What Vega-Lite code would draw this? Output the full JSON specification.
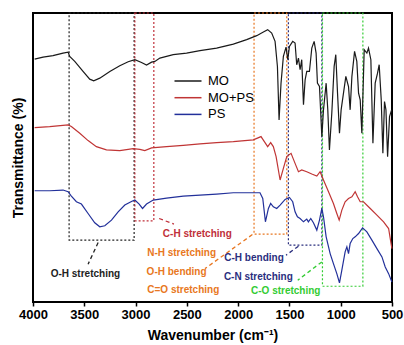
{
  "$schema": "https://vega.github.io/schema/vega-lite/v6.json",
  "autosize": {"type": "none"},
  "padding": {"left": 33, "top": 13, "right": 12, "bottom": 43},
  "width": 359,
  "height": 289,
  "config": {
    "view": {"stroke": "#000", "strokeWidth": 2},
    "font": "Liberation Sans",
    "axis": {"labelFont": "Liberation Sans", "titleFont": "Liberation Sans"}
  },
  "datasets": {
    "spectra": [
      {"series": "MO", "wn": 3984, "t": 242.3}, {"series": "MO", "wn": 3902, "t": 244.3}, {"series": "MO", "wn": 3805, "t": 245.7}, {"series": "MO", "wn": 3707, "t": 248.3}, {"series": "MO", "wn": 3658, "t": 249.3}, {"series": "MO", "wn": 3642, "t": 245}, {"series": "MO", "wn": 3593, "t": 240}, {"series": "MO", "wn": 3512, "t": 230}, {"series": "MO", "wn": 3447, "t": 222.3}, {"series": "MO", "wn": 3408, "t": 220.7}, {"series": "MO", "wn": 3349, "t": 223.3}, {"series": "MO", "wn": 3251, "t": 230}, {"series": "MO", "wn": 3154, "t": 235.7}, {"series": "MO", "wn": 3072, "t": 239.7}, {"series": "MO", "wn": 3007, "t": 241.7}, {"series": "MO", "wn": 2942, "t": 239}, {"series": "MO", "wn": 2893, "t": 236.3}, {"series": "MO", "wn": 2844, "t": 239.3}, {"series": "MO", "wn": 2812, "t": 240}, {"series": "MO", "wn": 2763, "t": 243.3}, {"series": "MO", "wn": 2633, "t": 246.7}, {"series": "MO", "wn": 2503, "t": 248.3}, {"series": "MO", "wn": 2372, "t": 250.7}, {"series": "MO", "wn": 2210, "t": 253.3}, {"series": "MO", "wn": 2047, "t": 257.3}, {"series": "MO", "wn": 1917, "t": 261.7}, {"series": "MO", "wn": 1819, "t": 265.7}, {"series": "MO", "wn": 1754, "t": 269.3}, {"series": "MO", "wn": 1712, "t": 271.7}, {"series": "MO", "wn": 1673, "t": 268.3}, {"series": "MO", "wn": 1640, "t": 260}, {"series": "MO", "wn": 1617, "t": 235}, {"series": "MO", "wn": 1601, "t": 181.7}, {"series": "MO", "wn": 1582, "t": 218.3}, {"series": "MO", "wn": 1559, "t": 245}, {"series": "MO", "wn": 1533, "t": 254.3}, {"series": "MO", "wn": 1516, "t": 241.7}, {"series": "MO", "wn": 1500, "t": 255}, {"series": "MO", "wn": 1468, "t": 260}, {"series": "MO", "wn": 1445, "t": 258.3}, {"series": "MO", "wn": 1429, "t": 236.7}, {"series": "MO", "wn": 1412, "t": 243.3}, {"series": "MO", "wn": 1396, "t": 231.7}, {"series": "MO", "wn": 1380, "t": 241.7}, {"series": "MO", "wn": 1363, "t": 196.7}, {"series": "MO", "wn": 1347, "t": 221.7}, {"series": "MO", "wn": 1331, "t": 230}, {"series": "MO", "wn": 1305, "t": 230}, {"series": "MO", "wn": 1282, "t": 253.3}, {"series": "MO", "wn": 1259, "t": 260}, {"series": "MO", "wn": 1240, "t": 248.3}, {"series": "MO", "wn": 1227, "t": 218.3}, {"series": "MO", "wn": 1207, "t": 215}, {"series": "MO", "wn": 1184, "t": 165}, {"series": "MO", "wn": 1168, "t": 191.7}, {"series": "MO", "wn": 1142, "t": 218.3}, {"series": "MO", "wn": 1126, "t": 191.7}, {"series": "MO", "wn": 1110, "t": 151.7}, {"series": "MO", "wn": 1087, "t": 188.3}, {"series": "MO", "wn": 1064, "t": 235}, {"series": "MO", "wn": 1048, "t": 246.7}, {"series": "MO", "wn": 1031, "t": 208.3}, {"series": "MO", "wn": 1012, "t": 168.3}, {"series": "MO", "wn": 996, "t": 191.7}, {"series": "MO", "wn": 973, "t": 208.3}, {"series": "MO", "wn": 950, "t": 225}, {"series": "MO", "wn": 924, "t": 215}, {"series": "MO", "wn": 908, "t": 191.7}, {"series": "MO", "wn": 891, "t": 225}, {"series": "MO", "wn": 865, "t": 250}, {"series": "MO", "wn": 843, "t": 240}, {"series": "MO", "wn": 826, "t": 208.3}, {"series": "MO", "wn": 810, "t": 201.7}, {"series": "MO", "wn": 794, "t": 168.3}, {"series": "MO", "wn": 771, "t": 251.7}, {"series": "MO", "wn": 745, "t": 248.3}, {"series": "MO", "wn": 729, "t": 253.3}, {"series": "MO", "wn": 706, "t": 241.7}, {"series": "MO", "wn": 686, "t": 158.3}, {"series": "MO", "wn": 664, "t": 218.3}, {"series": "MO", "wn": 641, "t": 228.3}, {"series": "MO", "wn": 625, "t": 236.7}, {"series": "MO", "wn": 605, "t": 201.7}, {"series": "MO", "wn": 589, "t": 148.3}, {"series": "MO", "wn": 573, "t": 200}, {"series": "MO", "wn": 559, "t": 191.7}, {"series": "MO", "wn": 543, "t": 145}, {"series": "MO", "wn": 524, "t": 185}, {"series": "MO", "wn": 504, "t": 191.7},
      {"series": "MO+PS", "wn": 3984, "t": 174}, {"series": "MO+PS", "wn": 3837, "t": 175}, {"series": "MO+PS", "wn": 3658, "t": 176.7}, {"series": "MO+PS", "wn": 3626, "t": 175}, {"series": "MO+PS", "wn": 3544, "t": 168.3}, {"series": "MO+PS", "wn": 3463, "t": 161}, {"series": "MO+PS", "wn": 3382, "t": 155}, {"series": "MO+PS", "wn": 3284, "t": 151.7}, {"series": "MO+PS", "wn": 3154, "t": 151}, {"series": "MO+PS", "wn": 3023, "t": 153}, {"series": "MO+PS", "wn": 2958, "t": 152.3}, {"series": "MO+PS", "wn": 2910, "t": 151}, {"series": "MO+PS", "wn": 2844, "t": 153.7}, {"series": "MO+PS", "wn": 2698, "t": 155}, {"series": "MO+PS", "wn": 2535, "t": 156.3}, {"series": "MO+PS", "wn": 2372, "t": 157.7}, {"series": "MO+PS", "wn": 2210, "t": 159}, {"series": "MO+PS", "wn": 2047, "t": 160}, {"series": "MO+PS", "wn": 1852, "t": 161.7}, {"series": "MO+PS", "wn": 1777, "t": 165}, {"series": "MO+PS", "wn": 1738, "t": 159}, {"series": "MO+PS", "wn": 1712, "t": 155}, {"series": "MO+PS", "wn": 1683, "t": 159}, {"series": "MO+PS", "wn": 1657, "t": 155}, {"series": "MO+PS", "wn": 1630, "t": 145}, {"series": "MO+PS", "wn": 1591, "t": 121.7}, {"series": "MO+PS", "wn": 1559, "t": 133.3}, {"series": "MO+PS", "wn": 1526, "t": 145}, {"series": "MO+PS", "wn": 1484, "t": 148.3}, {"series": "MO+PS", "wn": 1445, "t": 138.3}, {"series": "MO+PS", "wn": 1412, "t": 130}, {"series": "MO+PS", "wn": 1380, "t": 131.7}, {"series": "MO+PS", "wn": 1331, "t": 130}, {"series": "MO+PS", "wn": 1282, "t": 127.7}, {"series": "MO+PS", "wn": 1233, "t": 125.7}, {"series": "MO+PS", "wn": 1201, "t": 130}, {"series": "MO+PS", "wn": 1168, "t": 121.7}, {"series": "MO+PS", "wn": 1119, "t": 110}, {"series": "MO+PS", "wn": 1071, "t": 98.3}, {"series": "MO+PS", "wn": 1038, "t": 88.3}, {"series": "MO+PS", "wn": 1015, "t": 81.7}, {"series": "MO+PS", "wn": 989, "t": 91.7}, {"series": "MO+PS", "wn": 957, "t": 100}, {"series": "MO+PS", "wn": 924, "t": 103.3}, {"series": "MO+PS", "wn": 891, "t": 105}, {"series": "MO+PS", "wn": 859, "t": 110}, {"series": "MO+PS", "wn": 836, "t": 105}, {"series": "MO+PS", "wn": 810, "t": 100}, {"series": "MO+PS", "wn": 778, "t": 100}, {"series": "MO+PS", "wn": 712, "t": 93.3}, {"series": "MO+PS", "wn": 647, "t": 86.7}, {"series": "MO+PS", "wn": 582, "t": 80}, {"series": "MO+PS", "wn": 533, "t": 73.3}, {"series": "MO+PS", "wn": 517, "t": 63.3}, {"series": "MO+PS", "wn": 501, "t": 53.3},
      {"series": "PS", "wn": 3984, "t": 111}, {"series": "PS", "wn": 3837, "t": 111}, {"series": "PS", "wn": 3707, "t": 111.7}, {"series": "PS", "wn": 3658, "t": 110}, {"series": "PS", "wn": 3626, "t": 105.7}, {"series": "PS", "wn": 3577, "t": 100}, {"series": "PS", "wn": 3528, "t": 97.7}, {"series": "PS", "wn": 3463, "t": 88.3}, {"series": "PS", "wn": 3398, "t": 79}, {"series": "PS", "wn": 3349, "t": 75}, {"series": "PS", "wn": 3300, "t": 76}, {"series": "PS", "wn": 3235, "t": 81.7}, {"series": "PS", "wn": 3170, "t": 90}, {"series": "PS", "wn": 3105, "t": 96.7}, {"series": "PS", "wn": 3040, "t": 100.3}, {"series": "PS", "wn": 3007, "t": 101.7}, {"series": "PS", "wn": 2965, "t": 97.7}, {"series": "PS", "wn": 2932, "t": 93.3}, {"series": "PS", "wn": 2893, "t": 97.7}, {"series": "PS", "wn": 2828, "t": 101.7}, {"series": "PS", "wn": 2698, "t": 103.7}, {"series": "PS", "wn": 2535, "t": 105.7}, {"series": "PS", "wn": 2372, "t": 106.7}, {"series": "PS", "wn": 2210, "t": 107.7}, {"series": "PS", "wn": 2047, "t": 109}, {"series": "PS", "wn": 1884, "t": 109}, {"series": "PS", "wn": 1787, "t": 109}, {"series": "PS", "wn": 1760, "t": 103.3}, {"series": "PS", "wn": 1734, "t": 80}, {"series": "PS", "wn": 1705, "t": 93.3}, {"series": "PS", "wn": 1683, "t": 98.3}, {"series": "PS", "wn": 1657, "t": 95}, {"series": "PS", "wn": 1624, "t": 93.3}, {"series": "PS", "wn": 1591, "t": 96.7}, {"series": "PS", "wn": 1542, "t": 102.3}, {"series": "PS", "wn": 1500, "t": 104.3}, {"series": "PS", "wn": 1468, "t": 100}, {"series": "PS", "wn": 1445, "t": 90}, {"series": "PS", "wn": 1422, "t": 85}, {"series": "PS", "wn": 1396, "t": 83.3}, {"series": "PS", "wn": 1363, "t": 80}, {"series": "PS", "wn": 1331, "t": 82.7}, {"series": "PS", "wn": 1315, "t": 80}, {"series": "PS", "wn": 1292, "t": 83.3}, {"series": "PS", "wn": 1266, "t": 79}, {"series": "PS", "wn": 1233, "t": 71.7}, {"series": "PS", "wn": 1207, "t": 81.7}, {"series": "PS", "wn": 1184, "t": 93.3}, {"series": "PS", "wn": 1168, "t": 85}, {"series": "PS", "wn": 1142, "t": 65}, {"series": "PS", "wn": 1103, "t": 48.3}, {"series": "PS", "wn": 1071, "t": 38.3}, {"series": "PS", "wn": 1038, "t": 28.3}, {"series": "PS", "wn": 1012, "t": 19}, {"series": "PS", "wn": 989, "t": 31.7}, {"series": "PS", "wn": 957, "t": 50}, {"series": "PS", "wn": 940, "t": 55}, {"series": "PS", "wn": 924, "t": 48.3}, {"series": "PS", "wn": 908, "t": 58.3}, {"series": "PS", "wn": 882, "t": 63.3}, {"series": "PS", "wn": 859, "t": 65}, {"series": "PS", "wn": 826, "t": 68.3}, {"series": "PS", "wn": 787, "t": 74}, {"series": "PS", "wn": 745, "t": 70}, {"series": "PS", "wn": 696, "t": 61.7}, {"series": "PS", "wn": 647, "t": 53.3}, {"series": "PS", "wn": 598, "t": 45}, {"series": "PS", "wn": 566, "t": 35}, {"series": "PS", "wn": 533, "t": 28.3}, {"series": "PS", "wn": 501, "t": 20}
    ],
    "boxes": [
      {"group": "OH", "x1": 3648, "x2": 3014, "y1": 61.7, "y2": 288.3},
      {"group": "CH", "x1": 3007, "x2": 2822, "y1": 81, "y2": 288.3},
      {"group": "NH", "x1": 1845, "x2": 1526, "y1": 67.7, "y2": 288.3},
      {"group": "CN", "x1": 1510, "x2": 1184, "y1": 56.7, "y2": 288.3},
      {"group": "CO", "x1": 1178, "x2": 784, "y1": 15.7, "y2": 288.3}
    ],
    "links": [
      {"group": "OH", "x1": 3365, "x2": 3463, "y1": 59.3, "y2": 37.7},
      {"group": "CH", "x1": 2770, "x2": 2626, "y1": 83.3, "y2": 77.7},
      {"group": "NH", "x1": 1861, "x2": 2324, "y1": 67.3, "y2": 33.3},
      {"group": "CN", "x1": 1412, "x2": 1533, "y1": 55.7, "y2": 46.7},
      {"group": "CO", "x1": 1184, "x2": 1419, "y1": 40, "y2": 21.7}
    ],
    "labels": [
      {"group": "OH", "text": "O-H stretching", "x": 3489, "y": 27.7},
      {"group": "CH", "text": "C-H stretching", "x": 2398, "y": 68.3},
      {"group": "NH", "text": "N-H stretching", "x": 2551, "y": 49.3},
      {"group": "NH", "text": "O-H bending", "x": 2600, "y": 30},
      {"group": "NH", "text": "C=O stretching", "x": 2535, "y": 11.7},
      {"group": "CN", "text": "C-H bending", "x": 1845, "y": 44},
      {"group": "CN", "text": "C-N stretching", "x": 1803, "y": 25},
      {"group": "CO", "text": "C-O stretching", "x": 1536, "y": 11}
    ]
  },
  "layer": [
    {
      "data": {"name": "boxes"},
      "mark": {"type": "rect", "fill": null, "fillOpacity": 0, "strokeWidth": 1.2, "strokeDash": [2, 2]},
      "encoding": {
        "x": {"field": "x1", "type": "quantitative", "scale": {"domain": [500, 4000], "reverse": true, "nice": false, "zero": false}},
        "x2": {"field": "x2"},
        "y": {"field": "y1", "type": "quantitative", "scale": {"domain": [0, 288.3], "nice": false}},
        "y2": {"field": "y2"},
        "stroke": {"field": "group", "type": "nominal", "legend": null, "scale": {"domain": ["OH", "CH", "NH", "CN", "CO"], "range": ["#222222", "#c0303a", "#e87722", "#2a2e7e", "#33cc33"]}}
      }
    },
    {
      "data": {"name": "links"},
      "mark": {"type": "rule", "strokeWidth": 1.3, "strokeDash": [4, 3]},
      "encoding": {
        "x": {"field": "x1", "type": "quantitative"},
        "x2": {"field": "x2"},
        "y": {"field": "y1", "type": "quantitative"},
        "y2": {"field": "y2"},
        "stroke": {"field": "group", "type": "nominal", "legend": null}
      }
    },
    {
      "data": {"name": "labels"},
      "mark": {"type": "text", "fontSize": 10, "fontWeight": "bold", "font": "Liberation Sans"},
      "encoding": {
        "x": {"field": "x", "type": "quantitative"},
        "y": {"field": "y", "type": "quantitative"},
        "text": {"field": "text"},
        "fill": {"field": "group", "type": "nominal", "legend": null, "scale": {"domain": ["OH", "CH", "NH", "CN", "CO"], "range": ["#222222", "#c0303a", "#e87722", "#2a2e7e", "#33cc33"]}}
      }
    },
    {
      "data": {"name": "spectra"},
      "mark": {"type": "line", "strokeWidth": 1.2},
      "encoding": {
        "x": {"field": "wn", "type": "quantitative", "title": "Wavenumber (cm⁻¹)",
          "axis": {"values": [4000, 3750, 3500, 3250, 3000, 2750, 2500, 2250, 2000, 1750, 1500, 1250, 1000, 750, 500],
            "labelExpr": "datum.value % 500 == 0 ? format(datum.value, 'd') : ''",
            "domain": false, "grid": false, "tickSize": 4, "tickWidth": 1.5, "tickColor": "#000",
            "labelFontSize": 13, "labelFontWeight": "bold", "labelColor": "#000", "labelPadding": 2, "labelFlush": false, "labelOverlap": false,
            "titleFontSize": 14, "titleFontWeight": "bold", "titleColor": "#000", "titlePadding": 7}},
        "y": {"field": "t", "type": "quantitative", "title": "Transmittance (%)",
          "axis": {"labels": false, "ticks": false, "domain": false, "grid": false,
            "titleFontSize": 14, "titleFontWeight": "bold", "titleColor": "#000", "titlePadding": 8}},
        "color": {"field": "series", "type": "nominal",
          "scale": {"domain": ["MO", "MO+PS", "PS"], "range": ["#1a1a1a", "#c03535", "#22309a"]},
          "legend": {"orient": "none", "legendX": 148.5, "legendY": 61.5, "title": null, "padding": 0,
            "symbolType": "M-2.7,0H2.7", "symbolSize": 100, "symbolStrokeWidth": 1.5,
            "labelFontSize": 13, "labelFont": "Liberation Sans", "labelColor": "#000", "labelOffset": 13.5, "rowPadding": 2.7}}
      }
    }
  ]
}
